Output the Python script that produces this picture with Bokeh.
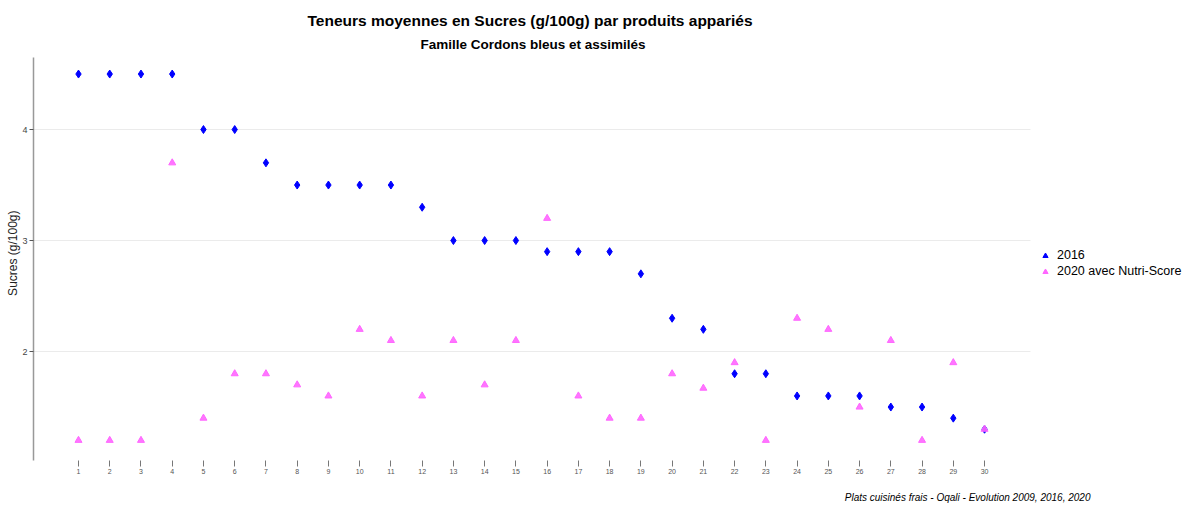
from bokeh.plotting import figure
from bokeh.models import ColumnDataSource, Title, Legend, LegendItem, FixedTicker, Range1d, Label
from bokeh.embed import file_html
from bokeh.resources import INLINE

produits = list(range(1, 31))
sucres_2016 = [4.5, 4.5, 4.5, 4.5, 4.0, 4.0, 3.7, 3.5, 3.5, 3.5,
               3.5, 3.3, 3.0, 3.0, 3.0, 2.9, 2.9, 2.9, 2.7, 2.3,
               2.2, 1.8, 1.8, 1.6, 1.6, 1.6, 1.5, 1.5, 1.4, 1.3]
sucres_2020 = [1.2, 1.2, 1.2, 3.7, 1.4, 1.8, 1.8, 1.7, 1.6, 2.2,
               2.1, 1.6, 2.1, 1.7, 2.1, 3.2, 1.6, 1.4, 1.4, 1.8,
               1.67, 1.9, 1.2, 2.3, 2.2, 1.5, 2.1, 1.2, 1.9, 1.3]
y_gridlines = [2, 3, 4]
series_labels = ["2016", "2020 avec Nutri-Score"]
titre = "Teneurs moyennes en Sucres (g/100g) par produits appariés"
sous_titre = "Famille Cordons bleus et assimilés"
y_titre = "Sucres (g/100g)"
source_txt = "Plats cuisinés frais - Oqali - Evolution 2009, 2016, 2020"

BLUE = "#0000FF"
PINK = "#FF66FF"
FONT = "Liberation Sans"

# panel area spans x in [X0, X1], y in [Y0, Y1]; the frame is widened to the right
# (legend) and downward (x-axis labels and caption)
X0, X1, XR = -0.44, 31.47, 36.40
Y0, Y1, YB = 1.02, 4.649, 0.595
p = figure(width=1184, height=507, output_backend="svg", toolbar_location=None,
           x_range=Range1d(X0, XR), y_range=Range1d(YB, Y1),
           min_border_left=33, min_border_right=0, min_border_top=57, min_border_bottom=0,
           title=None)
p.outline_line_color = None
p.background_fill_color = "white"

# horizontal grid lines limited to the panel area
p.segment(x0=[X0] * len(y_gridlines), x1=[X1] * len(y_gridlines), y0=y_gridlines, y1=y_gridlines,
          line_color="#EBEBEB", line_width=1)

src16 = ColumnDataSource(dict(x=produits, y=sucres_2016))
src20 = ColumnDataSource(dict(x=produits, y=sucres_2020))

p.scatter("x", "y", source=src16, marker="diamond", size=8, color=BLUE)
p.scatter("x", "y", source=src20, marker="triangle", size=7, color=PINK, fill_alpha=0.9)

# legend proxies (both shown as triangles), placed off the visible range
l16 = p.scatter([-100], [-100], marker="triangle", size=7, color=BLUE)
l20 = p.scatter([-100], [-100], marker="triangle", size=7, color=PINK)
legend = Legend(items=[LegendItem(label=series_labels[0], renderers=[l16]),
                       LegendItem(label=series_labels[1], renderers=[l20])],
                location=(1004, 229), border_line_color=None, background_fill_alpha=0,
                label_text_font=FONT, label_text_font_size="12.5px", label_text_color="#000000",
                glyph_width=16, glyph_height=13, label_standoff=4, spacing=2,
                padding=0, margin=0, label_height=13)
p.add_layout(legend, "center")

# axes
p.yaxis.ticker = FixedTicker(ticks=y_gridlines)
p.yaxis.bounds = (Y0, Y1)
p.yaxis.axis_line_color = "#999999"
p.yaxis.axis_line_width = 1.5
p.yaxis.major_tick_line_color = "#555555"
p.yaxis.major_tick_out = 4
p.yaxis.major_tick_in = 0
p.yaxis.minor_tick_line_color = None
p.yaxis.major_label_text_font = FONT
p.yaxis.major_label_text_font_size = "9px"
p.yaxis.major_label_text_color = "#444444"
p.yaxis.major_label_standoff = 2

p.xaxis.ticker = FixedTicker(ticks=produits)
p.xaxis.fixed_location = Y0
p.xaxis.axis_line_color = None
p.xaxis.major_tick_line_color = "#777777"
p.xaxis.major_tick_out = 6
p.xaxis.major_tick_in = 0
p.xaxis.minor_tick_line_color = None
p.xaxis.major_label_text_font = FONT
p.xaxis.major_label_text_font_size = "7px"
p.xaxis.major_label_text_color = "#555555"
p.xaxis.major_label_standoff = 3

p.xgrid.grid_line_color = None
p.ygrid.grid_line_color = None

# y-axis title, centred on the panel area (not the widened frame)
p.add_layout(Title(text=y_titre, align="right", offset=153, text_font=FONT, text_font_size="12px",
                   text_font_style="normal", text_color="#222222", standoff=0), "left")

# titles (first added = closest to frame)
p.add_layout(Title(text=sous_titre, align="left", offset=387, text_font=FONT, text_font_size="13.5px",
                   text_font_style="bold", text_color="#000000", standoff=12), "above")
p.add_layout(Title(text=titre, align="left", offset=274, text_font=FONT, text_font_size="15.5px",
                   text_font_style="bold", text_color="#000000", standoff=0), "above")

# caption, bottom right
p.add_layout(Label(x=33.39, y=0.685, text=source_txt, text_align="right", text_baseline="middle",
                   text_font=FONT, text_font_size="10px", text_font_style="italic",
                   text_color="#000000"))

open("out.html", "w").write(file_html(p, INLINE))
